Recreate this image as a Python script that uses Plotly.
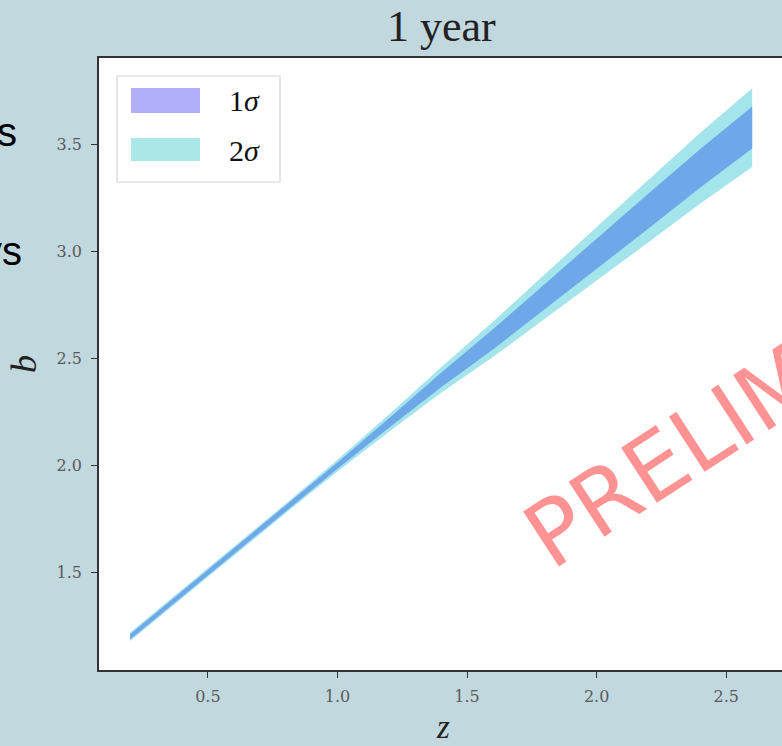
import plotly.graph_objects as go

# redshift grid and credible bands for the bias b(z)
z = [0.2, 0.4, 0.6, 0.8, 1.0, 1.2, 1.4, 1.6, 1.8, 2.0, 2.2, 2.4, 2.6]
sig1_lo = [1.188, 1.388, 1.588, 1.787, 1.985, 2.178, 2.366, 2.543, 2.730, 2.918, 3.108, 3.300, 3.482]
sig1_hi = [1.212, 1.412, 1.612, 1.813, 2.015, 2.222, 2.434, 2.637, 2.850, 3.062, 3.272, 3.480, 3.678]
sig2_lo = [1.180, 1.380, 1.579, 1.778, 1.973, 2.160, 2.340, 2.508, 2.686, 2.864, 3.044, 3.225, 3.396]
sig2_hi = [1.220, 1.420, 1.621, 1.822, 2.027, 2.240, 2.460, 2.672, 2.894, 3.116, 3.336, 3.555, 3.764]

x_ticks = [0.5, 1.0, 1.5, 2.0, 2.5]
y_ticks = [1.5, 2.0, 2.5, 3.0, 3.5]
legend_labels = ["1σ", "2σ"]
title_text = "1 year"
watermark = "PRELIMINARY"

BG = "#c2d8df"
OUTER = "#a4e4eb"
INNER = "#6ea8e8"
SW1 = "#b2b0fa"
SW2 = "#ace8e8"
SERIF = "Liberation Serif"
TICKFONT = dict(family="DejaVu Serif", size=16, color="#5a5a5a")

W, H = 782, 746
L, R, T, B = 99, 0, 58, 76
pw, ph = W - L - R, H - T - B


def px_x(p):
    return (p - L) / pw


def px_y(p):
    return (H - B - p) / ph


fig = go.Figure()
# 2-sigma band
fig.add_trace(go.Scatter(x=z, y=sig2_lo, mode="lines", line=dict(width=0, color=OUTER),
                         showlegend=False, hoverinfo="skip"))
fig.add_trace(go.Scatter(x=z, y=sig2_hi, mode="lines", line=dict(width=0, color=OUTER),
                         fill="tonexty", fillcolor=OUTER, showlegend=False, hoverinfo="skip"))
# 1-sigma band
fig.add_trace(go.Scatter(x=z, y=sig1_lo, mode="lines", line=dict(width=0, color=INNER),
                         showlegend=False, hoverinfo="skip"))
fig.add_trace(go.Scatter(x=z, y=sig1_hi, mode="lines", line=dict(width=0, color=INNER),
                         fill="tonexty", fillcolor=INNER, showlegend=False, hoverinfo="skip"))

# legend box
shapes = [
    dict(type="rect", xref="paper", yref="paper",
         x0=px_x(117), x1=px_x(280), y0=px_y(182), y1=px_y(76),
         line=dict(color="#d6d6d6", width=1.2), fillcolor="rgba(255,255,255,0.85)", layer="above"),
    dict(type="rect", xref="paper", yref="paper",
         x0=px_x(131), x1=px_x(200), y0=px_y(113), y1=px_y(88),
         line=dict(width=0), fillcolor=SW1, layer="above"),
    dict(type="rect", xref="paper", yref="paper",
         x0=px_x(131), x1=px_x(200), y0=px_y(161), y1=px_y(138),
         line=dict(width=0), fillcolor=SW2, layer="above"),
]

annotations = [
    dict(text=legend_labels[0].replace("σ", "<i>σ</i>"), xref="paper", yref="paper",
         x=px_x(227), y=px_y(101), xanchor="left", yanchor="middle", showarrow=False,
         font=dict(family=SERIF, size=30, color="#111111")),
    dict(text=legend_labels[1].replace("σ", "<i>σ</i>"), xref="paper", yref="paper",
         x=px_x(227), y=px_y(150), xanchor="left", yanchor="middle", showarrow=False,
         font=dict(family=SERIF, size=30, color="#111111")),
    # title
    dict(text=title_text, xref="paper", yref="paper", x=px_x(441), y=px_y(27),
         xanchor="center", yanchor="middle", showarrow=False,
         font=dict(family=SERIF, size=44, color="#222222")),
    # axis titles
    dict(text="<i>b</i>", xref="paper", yref="paper", x=px_x(24), y=px_y(364),
         xanchor="center", yanchor="middle", textangle=-90, showarrow=False,
         font=dict(family=SERIF, size=36, color="#222222")),
    dict(text="<i>z</i>", xref="paper", yref="paper", x=px_x(443), y=px_y(727),
         xanchor="center", yanchor="middle", showarrow=False,
         font=dict(family=SERIF, size=33, color="#222222")),
    # slide text fragments at the left border
    dict(text="s", xref="paper", yref="paper", x=px_x(19), y=px_y(132),
         xanchor="right", yanchor="middle", showarrow=False,
         font=dict(family="Liberation Sans", size=40, color="#000000")),
    dict(text="ys", xref="paper", yref="paper", x=px_x(24), y=px_y(251),
         xanchor="right", yanchor="middle", showarrow=False,
         font=dict(family="Liberation Sans", size=40, color="#000000")),
    # watermark
    dict(text=watermark, xref="paper", yref="paper", x=px_x(784), y=px_y(382),
         xanchor="center", yanchor="middle", textangle=-33, showarrow=False,
         font=dict(family="DejaVu Sans", size=90, color="rgba(255,40,40,0.5)")),
]

fig.update_layout(
    width=W, height=H,
    margin=dict(l=L, r=R, t=T, b=B, pad=0),
    paper_bgcolor=BG, plot_bgcolor="white",
    showlegend=False,
    shapes=shapes, annotations=annotations,
    xaxis=dict(range=[0.08, 0.08 + pw / 259.2], tickvals=x_ticks,
               ticktext=[f"{v:.1f}" for v in x_ticks],
               showgrid=False, zeroline=False, showline=True, linecolor="#333333", linewidth=1.5,
               mirror=True, ticks="outside", ticklen=6, tickcolor="#333333", tickwidth=1.2,
               tickfont=TICKFONT, ticklabelstandoff=5),
    yaxis=dict(range=[1.045, 1.045 + ph / 214.0], tickvals=y_ticks,
               ticktext=[f"{v:.1f}" for v in y_ticks],
               showgrid=False, zeroline=False, showline=True, linecolor="#333333", linewidth=1.5,
               ticks="outside", ticklen=6, tickcolor="#333333", tickwidth=1.2,
               tickfont=TICKFONT, ticklabelstandoff=6),
)

fig.write_html("out.html")
